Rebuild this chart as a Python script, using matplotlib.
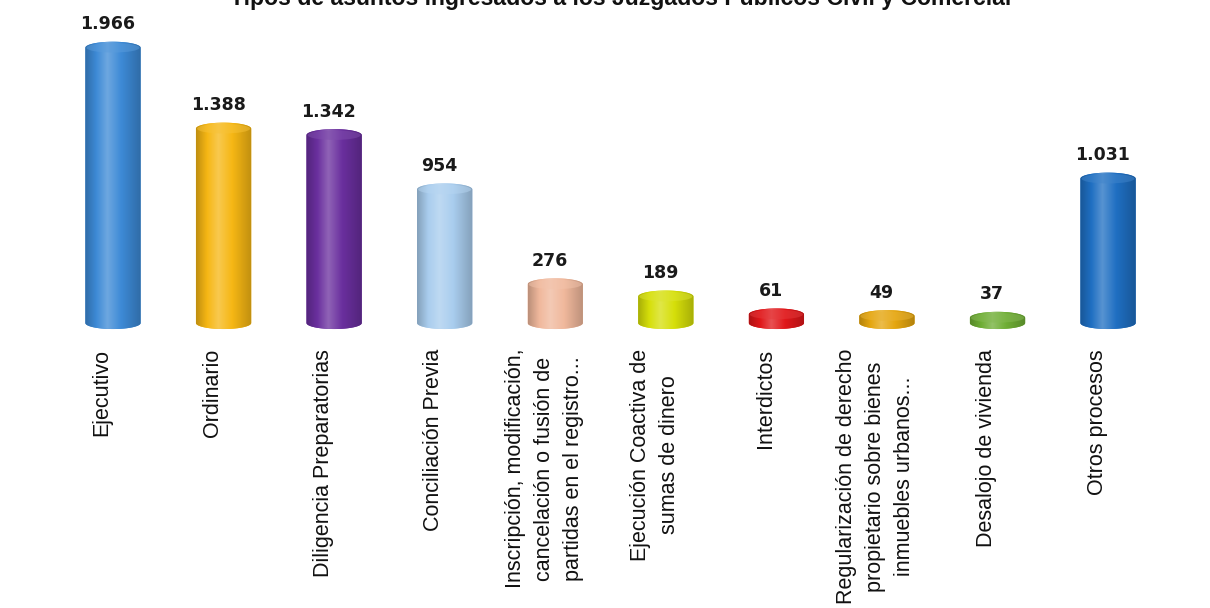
import numpy as np
import matplotlib.pyplot as plt
import matplotlib.colors as mcolors
from matplotlib.path import Path
from matplotlib.patches import PathPatch, Ellipse
import matplotlib.transforms as mtransforms

plt.rcParams['font.family'] = ['Liberation Sans', 'DejaVu Sans']

titulo = "Tipos de asuntos ingresados a los Juzgados Públicos Civil y Comercial"
categorias = [
    "Ejecutivo",
    "Ordinario",
    "Diligencia Preparatorias",
    "Conciliación Previa",
    "Inscripción, modificación,\ncancelación o fusión de\npartidas en el registro...",
    "Ejecución Coactiva de\nsumas de dinero",
    "Interdictos",
    "Regularización de derecho\npropietario sobre bienes\ninmuebles urbanos...",
    "Desalojo de vivienda",
    "Otros procesos",
]
valores = [1966, 1388, 1342, 954, 276, 189, 61, 49, 37, 1031]
colores = ["#3d8ad6", "#f6b714", "#6a2f9e", "#a9cdee", "#f0b89c",
           "#d6df0a", "#e0171a", "#e5a60f", "#6fae35", "#1f6fc2"]

W, H = 12.10, 6.08
fig = plt.figure(figsize=(W, H), dpi=100)
fig.patch.set_facecolor("white")

# plot area: bars sit on a baseline ~323 px from the top of the figure
base_px = 345
ax = fig.add_axes([0, 1 - base_px / 608, 1, base_px / 608])
ax.set_xlim(-1.022, 9.922)
ax.set_ylim(-157, 2307)
ax.axis("off")

ancho = 0.5
alto_elipse = 86   # height of the cylinder caps, in data units


def cilindro(ax, x, v, color):
    a, b = ancho / 2, alto_elipse / 2
    t = np.linspace(np.pi, 2 * np.pi, 40)
    abajo = np.column_stack([x + a * np.cos(t), 0 + b * np.sin(t)])
    t2 = np.linspace(0, np.pi, 40)
    arriba = np.column_stack([x + a * np.cos(t2), v + b * np.sin(t2)])
    pts = np.vstack([abajo, arriba, abajo[:1]])
    silueta = Path(pts, closed=True)
    patch = PathPatch(silueta, facecolor=color, edgecolor="none", zorder=2)
    ax.add_patch(patch)

    base = np.array(mcolors.to_rgb(color))
    oscuro = base * 0.78
    claro = base + (1 - base) * 0.25
    cmap = mcolors.LinearSegmentedColormap.from_list(
        "c", [(0, oscuro), (0.2, base), (0.4, claro), (0.65, base), (1, oscuro)])
    grad = np.linspace(0, 1, 200).reshape(1, -1)
    im = ax.imshow(grad, cmap=cmap, aspect="auto", zorder=3,
                   extent=[x - a, x + a, -b, v + b], interpolation="bilinear")
    im.set_clip_path(patch)

    # top face
    tapa = Ellipse((x, v), 2 * a * 0.96, 2 * b * 0.8,
                   facecolor=base + (1 - base) * 0.15, edgecolor="none",
                   alpha=0.5, zorder=4)
    ax.add_patch(tapa)


for i, (v, c) in enumerate(zip(valores, colores)):
    cilindro(ax, i, v, c)
    etiqueta = f"{v:,}".replace(",", ".")
    ax.annotate(etiqueta, (i - 0.05, v + alto_elipse / 2), xytext=(0, 6),
                textcoords="offset points", ha="center", va="bottom",
                fontsize=12.5, fontweight="bold", color="#1a1a1a",
                family="DejaVu Sans", zorder=5)

# category labels, rotated under each bar
trans = mtransforms.blended_transform_factory(ax.transData, fig.transFigure)
for i, nombre in enumerate(categorias):
    ax.text(i - 0.1, 1 - 349 / 608, nombre, transform=trans, rotation=90,
            ha="center", va="top", fontsize=15.5, color="#111111",
            linespacing=1.5, multialignment="center", clip_on=False)

fig.text(0.513, 1 + 2 / 608, titulo, ha="center", va="center",
         fontsize=16.6, fontweight="bold", color="#111111")

fig.savefig("out.png", dpi=100, facecolor="white")
